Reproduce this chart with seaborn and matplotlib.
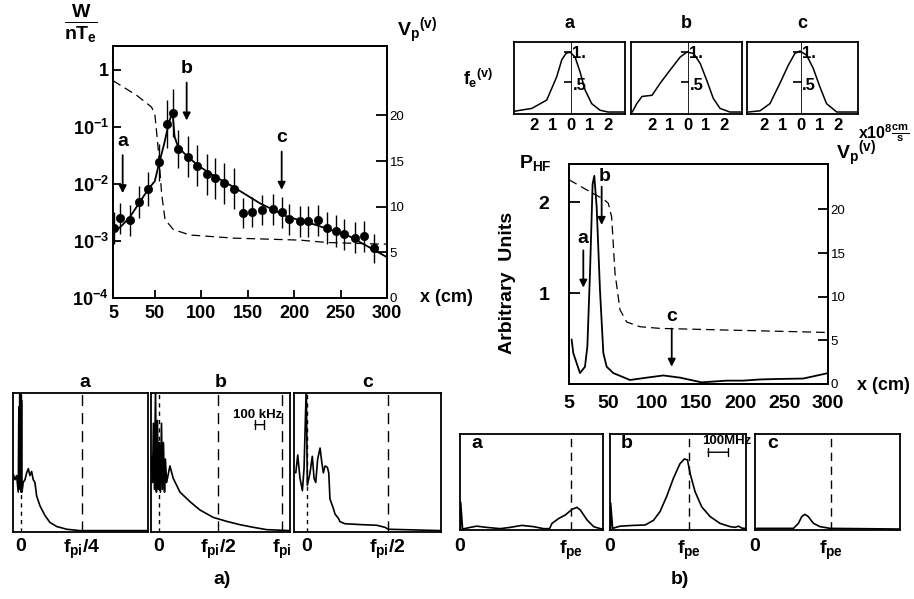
import numpy as np
import pandas as pd
import seaborn as sns
import matplotlib.pyplot as plt

###
### DATA
###

# a) top: normalised wave energy W/nTe along the column, with error bars (in decades)
x_pts = [6.1, 12.5, 23.3, 33.3, 43, 54.2, 63.5, 69.9, 74.6, 85.3, 95, 105.8, 114.8, 124.5, 135.2,
         145.3, 154.2, 165.7, 176.9, 186.5, 194.8, 206.3, 215.3, 226, 235.7, 245, 253.7, 265.9, 275.6, 286]
w_pts = [1.66e-3, 2.5e-3, 2.3e-3, 4.8e-3, 8.1e-3, 2.4e-2, 0.112, 0.174, 0.041, 0.030, 0.021, 0.0148,
         0.0126, 0.0102, 0.0083, 0.0031, 0.0032, 0.0035, 0.0036, 0.0032, 0.0024, 0.0022, 0.0022,
         0.0023, 0.00166, 0.0015, 0.0013, 0.00115, 0.0012, 0.00074]
w_err = [0.28, 0.27, 0.27, 0.28, 0.30, 0.32, 0.42, 0.42, 0.34, 0.36, 0.36, 0.36, 0.36, 0.36, 0.36,
         0.26, 0.26, 0.27, 0.27, 0.27, 0.27, 0.27, 0.27, 0.27, 0.28, 0.28, 0.28, 0.28, 0.28, 0.25]
x_fit = [5, 15, 23, 33, 43, 50, 54, 60, 65, 69, 71.3, 74.9, 85.3, 98.6, 114.8, 134.5, 163, 192, 224, 260, 300]
w_fit = [1.35e-3, 1.9e-3, 2.6e-3, 4.6e-3, 8.1e-3, 1.12e-2, 2.1e-2, 5.0e-2, 0.115, 0.186, 0.068, 0.045,
         0.030, 0.020, 0.0135, 0.0089, 0.0046, 0.0027, 0.0019, 0.0012, 0.00052]
x_vp_a = [5, 30.5, 46.6, 50.2, 53.8, 57.4, 61, 69.9, 87.9, 134.5, 206.3, 235, 294, 300]
vp_a = [23.8, 22.2, 20.9, 20.0, 16.2, 11.4, 8.6, 7.5, 6.9, 6.56, 6.34, 6.08, 5.9, 5.9]

# a) bottom: low frequency spectra (kHz, arbitrary height)
spec_a_x = [-51, -40, -29, -18, -14, -11, -8, -5, -2, 1, 4, 7, 15, 27, 38, 49, 60, 71, 82, 93,
            105, 127, 160, 193, 238, 305, 393, 847]
spec_a_y = [0.41, 0.37, 0.40, 0.28, 0.90, 0.35, 1.05, 0.30, 1.05, 0.28, 0.95, 0.28, 0.35, 0.37,
            0.42, 0.45, 0.40, 0.43, 0.37, 0.35, 0.25, 0.18, 0.11, 0.06, 0.03, 0.01, 0.0, 0.0]
spec_b_x = [-49, -43, -37, -30, -23, -17, -10, -3, 3, 10, 17, 23, 30, 37, 43, 51, 73, 95, 140,
            207, 273, 362, 452, 540, 629, 718, 873]
spec_b_y = [0.54, 0.35, 0.78, 0.30, 1.05, 0.28, 0.80, 0.30, 0.64, 0.28, 0.78, 0.30, 0.64, 0.28,
            0.52, 0.35, 0.47, 0.38, 0.28, 0.21, 0.15, 0.096, 0.067, 0.043, 0.024, 0.007, 0.0]
spec_c_x = [-73, -60, -45, -29, -18, -3, 4, 22, 37, 49, 60, 73, 89, 100, 111, 122, 138, 147, 155,
            178, 189, 211, 222, 255, 376, 467, 522, 544, 896]
spec_c_y = [0.42, 0.55, 0.38, 0.29, 0.45, 1.05, 0.33, 0.42, 0.54, 0.38, 0.35, 0.52, 0.60, 0.50,
            0.42, 0.47, 0.46, 0.42, 0.23, 0.16, 0.12, 0.09, 0.065, 0.05, 0.043, 0.039, 0.024, 0.01, 0.0]
spec_lines = {'a': [0, 407], 'b': [0, 393, 820], 'c': [0, 540]}
spec_labels = {'a': ['0', r'$f_{pi}$/4'], 'b': ['0', r'$f_{pi}$/2', r'$f_{pi}$'], 'c': ['0', r'$f_{pi}$/2']}

# b) top: electron distribution functions (10^8 cm/s)
fe_a_x = [-3.08, -2.93, -2.12, -1.31, -0.77, -0.5, -0.27, -0.05, 0.22, 0.49, 0.76, 1.12, 1.57, 2.0, 2.92]
fe_a_y = [0.01, 0.02, 0.06, 0.20, 0.59, 0.87, 0.98, 1.0, 0.92, 0.67, 0.37, 0.14, 0.03, 0.0, 0.0]
fe_b_x = [-3.1, -2.85, -2.56, -2.0, -1.55, -1.0, -0.43, -0.07, 0.3, 0.68, 1.04, 1.4, 1.78, 2.33, 3.0]
fe_b_y = [0.0, 0.14, 0.26, 0.28, 0.48, 0.70, 0.92, 1.0, 0.98, 0.81, 0.53, 0.23, 0.06, 0.0, 0.0]
fe_c_x = [-2.83, -2.2, -1.66, -1.12, -0.67, -0.31, -0.04, 0.32, 0.68, 1.04, 1.4, 1.95, 3.1]
fe_c_y = [0.0, 0.02, 0.14, 0.48, 0.78, 0.98, 1.02, 0.95, 0.73, 0.42, 0.14, 0.0, 0.0]
fe_ticks = [-2, -1, 0, 1, 2]
fe_ticklabels = ['2', '1', '0', '1', '2']

# b) middle: HF power and plasma potential along the column
x_hf = [8, 9.9, 17.5, 23.2, 25.9, 28.9, 31.9, 33.8, 36.5, 40.3, 44.1, 47.9, 55.5, 74.5, 93.5,
        112.4, 131.4, 156, 184.5, 203.5, 222.5, 241.5, 271.9, 300]
p_hf = [0.49, 0.34, 0.12, 0.19, 0.41, 1.22, 2.2, 2.29, 1.95, 1.03, 0.34, 0.19, 0.12, 0.044, 0.07,
        0.094, 0.07, 0.018, 0.037, 0.037, 0.05, 0.055, 0.06, 0.12]
x_vp_b = [5, 32.7, 44.1, 49.8, 53.6, 57.4, 63.1, 70.7, 85.9, 108.7, 184.6, 260.5, 300]
vp_b = [23.4, 21.8, 21.2, 20.7, 19.1, 12.7, 8.5, 7.1, 6.56, 6.37, 6.18, 6.0, 5.9]

# b) bottom: HF spectra (MHz, arbitrary height)
hf_a_x = [2, 2.6, 10, 38.5, 64, 103, 154, 192, 237, 282, 321, 344, 353, 379, 404, 430, 449, 462, 488, 513, 539, 549]
hf_a_y = [0.0, 0.29, 0.01, 0.027, 0.04, 0.027, 0.014, 0.027, 0.048, 0.035, 0.014, 0.014, 0.069,
          0.12, 0.156, 0.215, 0.236, 0.208, 0.104, 0.035, 0.014, 0.01]
hf_b_x = [2, 2.6, 10, 38.5, 90, 135, 167, 192, 218, 244, 269, 286, 298, 308, 327, 353, 385, 423,
          462, 481, 494, 507, 523]
hf_b_y = [0.0, 0.28, 0.017, 0.04, 0.048, 0.052, 0.10, 0.19, 0.35, 0.54, 0.69, 0.74, 0.73, 0.59,
          0.40, 0.24, 0.14, 0.069, 0.035, 0.028, 0.04, 0.02, 0.015]
hf_c_x = [6.4, 148, 167, 180, 192, 205, 225, 250, 289, 558]
hf_c_y = [0.017, 0.017, 0.069, 0.14, 0.163, 0.14, 0.069, 0.035, 0.017, 0.01]
hf_fpe = {'a': 427, 'b': 304, 'c': 292}


###
### STYLE
###

sns.set_theme(style="ticks")
plt.rcParams['font.family'] = ['Liberation Sans', 'DejaVu Sans']
plt.rcParams['font.weight'] = 'bold'
plt.rcParams['mathtext.fontset'] = 'custom'
plt.rcParams['mathtext.rm'] = 'Liberation Sans:bold'
plt.rcParams['mathtext.it'] = 'Liberation Sans:bold'
plt.rcParams['mathtext.bf'] = 'Liberation Sans:bold'
plt.rcParams['mathtext.sf'] = 'Liberation Sans:bold'
for k in ['axes.edgecolor', 'text.color', 'xtick.color', 'ytick.color', 'axes.labelcolor']:
    plt.rcParams[k] = 'black'
plt.rcParams['axes.linewidth'] = 1.3

W, H = 914, 599


def box(l, t, r, b):
    return [l / W, 1 - b / H, (r - l) / W, (b - t) / H]


def fpos(x, y):
    return x / W, 1 - y / H


def line(ax, x, y, lw=1.3, ls='-'):
    sns.lineplot(x=x, y=y, ax=ax, color='black', lw=lw, linestyle=ls, sort=False, estimator=None)


arrow = dict(arrowstyle='-|>', color='black', lw=1.3, mutation_scale=11, shrinkA=0, shrinkB=0)
dash_long = (0, (7, 4))

fig = plt.figure(figsize=(9.14, 5.99), dpi=100)

###
### a) TOP: W/nTe
###

ax1 = fig.add_axes(box(113, 46, 387, 298))
line(ax1, x_fit, w_fit, lw=1.3)
lo = [w - w / 10 ** e for w, e in zip(w_pts, w_err)]
hi = [w * 10 ** e - w for w, e in zip(w_pts, w_err)]
ax1.errorbar(x_pts, w_pts, yerr=[lo, hi], fmt='none', ecolor='black', elinewidth=1.0)
sns.scatterplot(x=x_pts, y=w_pts, ax=ax1, color='black', s=36, edgecolor='black', zorder=3)
ax1.set_yscale('log')
ax1.set_xlim(5, 300)
ax1.set_ylim(1e-4, 2.63)
ax1.set_xticks([5, 50, 100, 150, 200, 250, 300])
ax1.set_yticks([1, 1e-1, 1e-2, 1e-3, 1e-4], ['1', r'$10^{-1}$', r'$10^{-2}$', r'$10^{-3}$', r'$10^{-4}$'])
ax1.minorticks_off()
ax1.tick_params(direction='in', length=6, width=1.3, labelsize=13)
ax1.tick_params(axis='x', pad=5)
ax1.tick_params(axis='y', pad=3)

ax1r = ax1.twinx()
line(ax1r, x_vp_a, vp_a, lw=0.9, ls=dash_long)
ax1r.set_ylim(0, 27.6)
ax1r.set_yticks([0, 5, 10, 15, 20])
ax1r.tick_params(direction='in', length=8, width=1.3, labelsize=9.5, pad=2)
for lab in ax1r.get_yticklabels():
    lab.set_fontweight('normal')

for key, xa, y0, y1, yl in [('a', 15.4, 0.032, 0.0069, 0.055), ('b', 84.3, 0.60, 0.13, 1.07),
                            ('c', 186.6, 0.037, 0.0079, 0.066)]:
    ax1.annotate('', xy=(xa, y1), xytext=(xa, y0), arrowprops=arrow)
    ax1.text(xa, yl, key, ha='center', va='center', fontsize=14)

fig.text(*fpos(81, 24), r'$\frac{W}{nT_e}$', ha='center', va='center', fontsize=20)
fig.text(*fpos(417, 31), r'${V_p}^{(v)}$', ha='center', va='center', fontsize=14)
fig.text(*fpos(420, 298), 'x (cm)', ha='left', va='center', fontsize=13)

###
### a) BOTTOM: ion spectra
###

spec = {'a': (spec_a_x, spec_a_y, 13, 148, -53, 847),
        'b': (spec_b_x, spec_b_y, 151, 290, -53, 873),
        'c': (spec_c_x, spec_c_y, 294, 441, -85, 896)}
title_x = {'a': 0.53, 'b': 0.5, 'c': 0.5}
for key, (sx, sy, l, r, x0, x1) in spec.items():
    ax = fig.add_axes(box(l, 393, r, 532))
    line(ax, sx, sy, lw=1.2)
    ax.axvline(0, color='black', lw=1.0, linestyle=(0, (3, 3)))
    for xv in spec_lines[key][1:]:
        ax.axvline(xv, color='black', lw=1.0, linestyle=(0, (8, 5)))
    ax.set_xlim(x0, x1)
    ax.set_ylim(-0.01, 1.0)
    ax.set_yticks([])
    ax.set_xticks(spec_lines[key], spec_labels[key])
    ax.tick_params(axis='x', length=0, pad=4, labelsize=14)
    ax.text(title_x[key], 1.075, key, transform=ax.transAxes, ha='center', va='center', fontsize=14)
    if key == 'b':
        ax.annotate('', xy=(720, 0.77), xytext=(620, 0.77),
                    arrowprops=dict(arrowstyle='|-|', color='black', lw=1.0, mutation_scale=3))
        ax.text(655, 0.84, '100 kHz', ha='center', va='center', fontsize=9.5)

fig.text(*fpos(222, 580), 'a)', ha='center', va='center', fontsize=14)

###
### b) TOP: distribution functions
###

fe = {'a': (fe_a_x, fe_a_y, 514, 625, -3.08, 2.92),
      'b': (fe_b_x, fe_b_y, 631, 742, -3.17, 3.0),
      'c': (fe_c_x, fe_c_y, 747, 858, -2.9, 3.1)}
for key, (fx, fy, l, r, x0, x1) in fe.items():
    ax = fig.add_axes(box(l, 42, r, 114))
    line(ax, fx, fy, lw=1.1)
    ax.axvline(0, color='black', lw=0.6)
    ax.hlines([1, 0.5], -0.4, 0.05, color='black', lw=1.2)
    ax.text(0.08, 0.98, '1.', ha='left', va='center', fontsize=12)
    ax.text(0.08, 0.45, '.5', ha='left', va='center', fontsize=12)
    ax.set_xlim(x0, x1)
    ax.set_ylim(-0.033, 1.17)
    ax.set_yticks([])
    ax.set_xticks(fe_ticks, fe_ticklabels)
    ax.tick_params(axis='x', length=0, pad=3, labelsize=12)
    ax.text(0.5, 1.26, key, transform=ax.transAxes, ha='center', va='center', fontsize=13)

fig.text(*fpos(478, 78), r'${f_e}^{(v)}$', ha='center', va='center', fontsize=13)
fig.text(*fpos(910, 133), r'x$10^{8}\frac{cm}{s}$', ha='right', va='center', fontsize=11.5)

###
### b) MIDDLE: HF power
###

ax5 = fig.add_axes(box(569, 164, 828, 384))
line(ax5, x_hf, p_hf, lw=1.3)
ax5.set_xlim(5, 300)
ax5.set_ylim(0, 2.42)
ax5.set_xticks([5, 50, 100, 150, 200, 250, 300])
ax5.set_yticks([1, 2])
ax5.tick_params(axis='x', length=0, pad=8, labelsize=14)
ax5.tick_params(axis='y', direction='in', length=8, width=1.3, pad=14, labelsize=14)

ax5r = ax5.twinx()
line(ax5r, x_vp_b, vp_b, lw=0.9, ls=dash_long)
ax5r.set_ylim(0, 25.2)
ax5r.set_yticks([0, 5, 10, 15, 20])
ax5r.tick_params(direction='in', length=7, width=1.3, labelsize=9.5, pad=2)
for lab in ax5r.get_yticklabels():
    lab.set_fontweight('normal')

for key, xa, y0, y1, yl in [('a', 21.3, 1.47, 1.06, 1.6), ('b', 42.2, 2.17, 1.75, 2.28),
                            ('c', 122, 0.61, 0.19, 0.74)]:
    ax5.annotate('', xy=(xa, y1), xytext=(xa, y0), arrowprops=arrow)
    ax5.text(xa + (3 if key == 'b' else 0), yl, key, ha='center', va='center', fontsize=14)

fig.text(*fpos(535, 163), r'$P_{HF}$', ha='center', va='center', fontsize=14)
fig.text(*fpos(856, 154), r'${V_p}^{(v)}$', ha='center', va='center', fontsize=14)
fig.text(*fpos(507, 283), 'Arbitrary  Units', ha='center', va='center', rotation=90, fontsize=14)
fig.text(*fpos(857, 385), 'x (cm)', ha='left', va='center', fontsize=13)

###
### b) BOTTOM: HF spectra
###

hf = {'a': (hf_a_x, hf_a_y, 460, 603, 549),
      'b': (hf_b_x, hf_b_y, 610, 746, 523),
      'c': (hf_c_x, hf_c_y, 755, 900, 558)}
for key, (hx, hy, l, r, x1) in hf.items():
    ax = fig.add_axes(box(l, 434, r, 530))
    line(ax, hx, hy, lw=1.2)
    ax.axvline(hf_fpe[key], color='black', lw=1.0, linestyle=(0, (6, 4)))
    ax.set_xlim(0, x1)
    ax.set_ylim(0, 1)
    ax.set_yticks([])
    ax.set_xticks([0, hf_fpe[key]], ['0', r'$f_{pe}$'])
    ax.tick_params(axis='x', length=0, pad=6, labelsize=14)
    ax.text(0.12, 0.9, key, transform=ax.transAxes, ha='center', va='center', fontsize=14)
    if key == 'b':
        ax.annotate('', xy=(466, 0.81), xytext=(366, 0.81),
                    arrowprops=dict(arrowstyle='|-|', color='black', lw=1.0, mutation_scale=3))
        ax.text(450, 0.93, '100MHz', ha='center', va='center', fontsize=9.5)

fig.text(*fpos(680, 580), 'b)', ha='center', va='center', fontsize=14)

plt.savefig('out.png', dpi=100, facecolor='white')
